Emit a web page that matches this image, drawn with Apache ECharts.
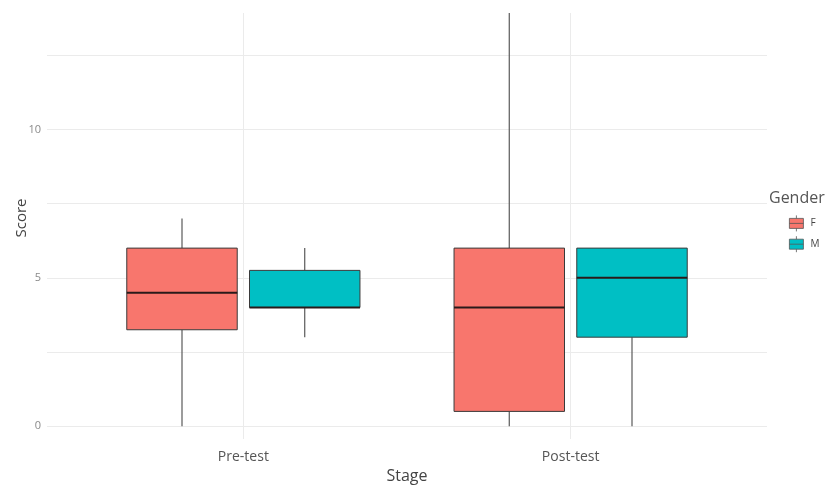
<!DOCTYPE html>
<html>
<head>
<meta charset="utf-8">
<script src="https://cdn.jsdelivr.net/npm/echarts@6/dist/echarts.min.js"></script>
<style>
  html, body { margin: 0; padding: 0; background: #ffffff; }
  #chart { width: 830px; height: 487px; }
</style>
</head>
<body>
<div id="chart"></div>
<script>
// Score by test stage, split by gender: five-number summaries per box
const stages = ['Pre-test', 'Post-test'];
const genders = ['F', 'M'];
// [min, Q1, median, Q3, max] for each stage
const femaleStats = [
  [0, 3.25, 4.5, 6, 7],
  [0, 0.5, 4, 6, 14]
];
const maleStats = [
  [3, 4, 4, 5.25, 6],
  [0, 3, 5, 6, 6]
];
const yGridValues = [0, 2.5, 5, 7.5, 10, 12.5];
const yLabelValues = [0, 5, 10];

const genderColors = { F: '#F8766D', M: '#00BFC4' };
const BOX_WIDTH = 0.3375;   // in category units
const DODGE = 0.1875;       // horizontal shift of each gender's box

function boxRenderer(offset) {
  return function (params, api) {
    const cs = params.coordSys;
    const clampY = y => Math.max(cs.y, Math.min(cs.y + cs.height, y));
    const xc = api.value(0) + offset;
    const cx = api.coord([xc, 0])[0];
    const yMin = clampY(api.coord([xc, api.value(1)])[1]);
    const yQ1 = clampY(api.coord([xc, api.value(2)])[1]);
    const yMed = clampY(api.coord([xc, api.value(3)])[1]);
    const yQ3 = clampY(api.coord([xc, api.value(4)])[1]);
    const yMax = clampY(api.coord([xc, api.value(5)])[1]);
    const halfW = api.size([BOX_WIDTH, 0])[0] / 2;
    const fill = api.visual('color');
    const whiskerStyle = { stroke: '#5a5a5a', lineWidth: 1.2 };
    return {
      type: 'group',
      children: [
        { type: 'line', shape: { x1: cx, y1: yQ3, x2: cx, y2: yMax }, style: whiskerStyle },
        { type: 'line', shape: { x1: cx, y1: yQ1, x2: cx, y2: yMin }, style: whiskerStyle },
        {
          type: 'rect',
          shape: { x: cx - halfW, y: yQ3, width: halfW * 2, height: yQ1 - yQ3 },
          style: { fill: fill, stroke: '#3a3a3a', lineWidth: 1 }
        },
        {
          type: 'line',
          shape: { x1: cx - halfW, y1: yMed, x2: cx + halfW, y2: yMed },
          style: { stroke: '#2a1a1a', lineWidth: 2 }
        }
      ]
    };
  };
}

function toItems(stats) {
  return stats.map((d, i) => [i + 1].concat(d));
}

const chart = echarts.init(document.getElementById('chart'), null, { renderer: 'canvas' });

// legend key: small box with median line and whisker stubs
const legendIcon = 'path://M0,3 h14 v10 h-14 z M0,8 h14 M7,0 v3 M7,13 v3';

chart.setOption({
  backgroundColor: '#ffffff',
  animation: false,
  textStyle: { fontFamily: 'Open Sans' },
  title: {
    text: 'Gender',
    left: 764,
    top: 185,
    textStyle: { fontSize: 16, fontWeight: 'normal', color: '#555555', fontFamily: 'Open Sans' }
  },
  legend: {
    data: genders,
    orient: 'vertical',
    left: 784,
    top: 210,
    itemWidth: 14,
    itemHeight: 16,
    itemGap: 4,
    icon: legendIcon,
    itemStyle: { borderColor: '#555555', borderWidth: 0.8 },
    textStyle: { fontSize: 10, color: '#444444', fontFamily: 'Open Sans', padding: [0, 0, 0, 2] }
  },
  graphic: [
    {
      type: 'text',
      x: 22,
      y: 218,
      rotation: Math.PI / 2,
      style: {
        text: 'Score',
        fontSize: 15,
        fontFamily: 'Open Sans',
        fill: '#444444',
        align: 'center',
        verticalAlign: 'middle'
      }
    }
  ],
  grid: { left: 47, right: 63, top: 13, bottom: 48, outerBoundsMode: 'none' },
  xAxis: {
    type: 'value',
    min: 0.4,
    max: 2.6,
    name: 'Stage',
    nameLocation: 'middle',
    nameGap: 26,
    nameTextStyle: { fontSize: 16, color: '#444444', fontFamily: 'Open Sans' },
    axisLine: { show: false },
    axisTick: { show: false, customValues: [1, 2] },
    axisLabel: {
      customValues: [1, 2],
      margin: 11,
      fontSize: 14,
      color: '#555555',
      fontFamily: 'Open Sans',
      formatter: v => stages[Math.round(v) - 1]
    },
    splitLine: { show: true, lineStyle: { color: '#ebebeb', width: 1 } }
  },
  yAxis: {
    type: 'value',
    min: -0.43,
    max: 13.92,
    axisLine: { show: false },
    axisTick: { show: false, customValues: yGridValues },
    axisLabel: {
      customValues: yLabelValues,
      margin: 6,
      fontSize: 11,
      color: '#8a8a8a',
      fontFamily: 'Open Sans'
    },
    splitLine: { show: true, lineStyle: { color: '#ebebeb', width: 1 } }
  },
  series: [
    {
      name: 'F',
      type: 'custom',
      renderItem: boxRenderer(-DODGE),
      itemStyle: { color: genderColors.F },
      encode: { x: 0, y: [1, 2, 3, 4, 5] },
      data: toItems(femaleStats)
    },
    {
      name: 'M',
      type: 'custom',
      renderItem: boxRenderer(DODGE),
      itemStyle: { color: genderColors.M },
      encode: { x: 0, y: [1, 2, 3, 4, 5] },
      data: toItems(maleStats)
    }
  ]
});
</script>
</body>
</html>
